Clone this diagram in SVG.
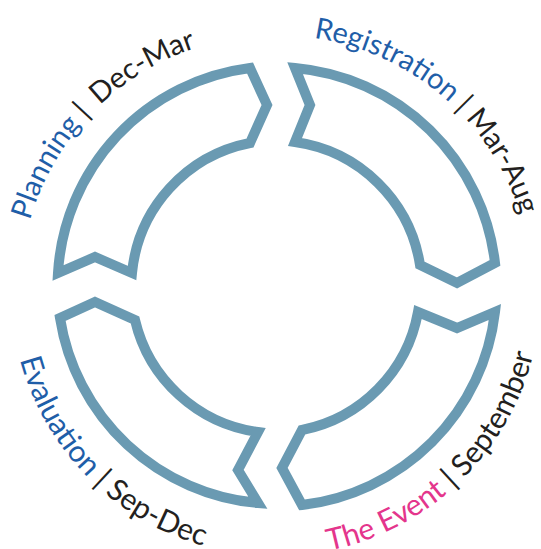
<svg xmlns="http://www.w3.org/2000/svg" width="541" height="549" viewBox="0 0 541 549">
<style>
.seg{fill:#ffffff;stroke:#6a9ab2;stroke-width:10;stroke-linejoin:miter}
.lbl{font-family:Lato,"Open Sans","Liberation Sans",sans-serif;font-size:29px;fill:#231f20}
.bot{font-size:30px}
.blue{fill:#1f5ea8}
.pink{fill:#e4358c}
</style>
<defs>
<path id="pPlan" d="M 29.9,220.4 A 256 256 0 0 1 276,35"/>
<path id="pReg" d="M 313.8,37.8 A 256 256 0 0 1 532,291"/>
<path id="pEval" d="M 20,359.6 A 265 265 0 0 0 276,556"/>
<path id="pEvent" d="M 329,550.6 A 265 265 0 0 0 541,291"/>
</defs>
<g id="connectors"></g>
<g id="planning">
<path class="seg" d="M 58,273 A 220 220 0 0 1 250,68 L 267,105 L 250,143 A 147 147 0 0 0 132,273 L 95,257 Z"/>
<text class="lbl"><textPath href="#pPlan"><tspan class="blue">Planning</tspan> | <tspan dx="5">Dec-Mar</tspan></textPath></text>
</g>
<g id="registration">
<path class="seg" d="M 295,68 A 221 221 0 0 1 495,263 L 457,283 L 420,265 A 147 147 0 0 0 295,142 L 310,105 Z"/>
<text class="lbl"><textPath href="#pReg"><tspan class="blue">Registration</tspan> | Mar-Aug</textPath></text>
</g>
<g id="event">
<path class="seg" d="M 495,312 A 220 220 0 0 1 302,505 L 282,468 L 302,430 A 147 147 0 0 0 418,312 L 457,328 Z"/>
<text class="lbl bot"><textPath href="#pEvent"><tspan class="pink">The Event</tspan> | September</textPath></text>
</g>
<g id="evaluation">
<path class="seg" d="M 258,503 A 220 220 0 0 1 60,318 L 95,302 L 135,320 A 147 147 0 0 0 258,432 L 238,470 Z"/>
<text class="lbl bot"><textPath href="#pEval"><tspan class="blue">Evaluation</tspan> | Sep-Dec</textPath></text>
</g>
</svg>
